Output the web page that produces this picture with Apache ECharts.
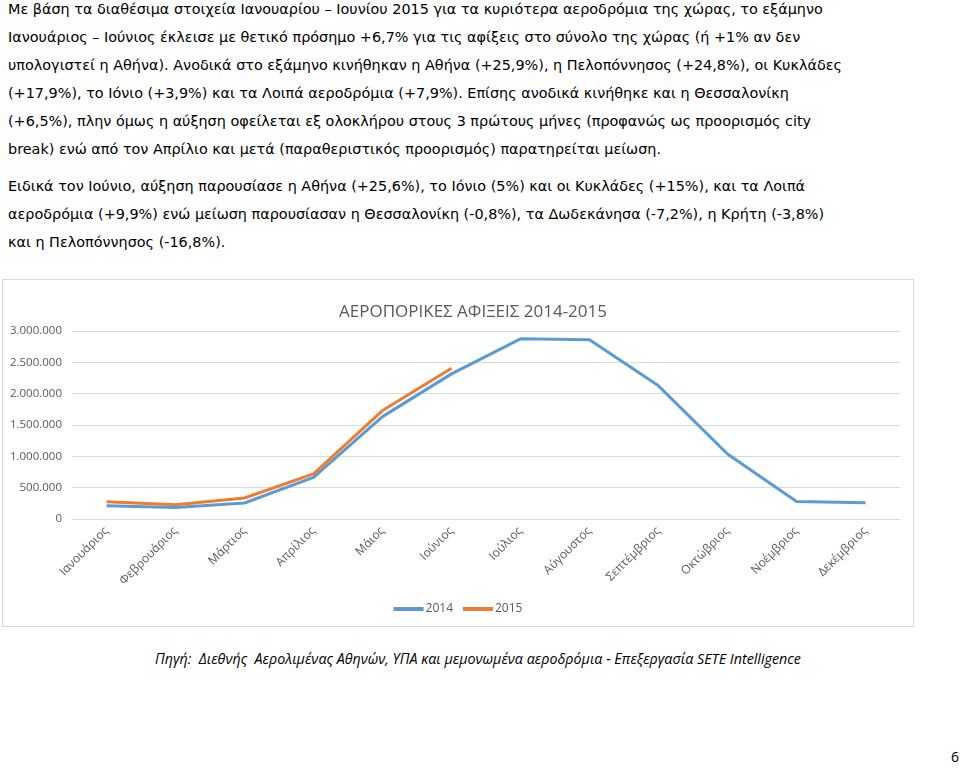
<!DOCTYPE html>
<html>
<head>
<meta charset="utf-8">
<script src="https://cdn.jsdelivr.net/npm/echarts@6/dist/echarts.min.js"></script>
<style>
  html, body { margin:0; padding:0; background:#fff; width:960px; height:768px; overflow:hidden; }
  .para { position:absolute; left:8px; font-family:"DejaVu Sans", Verdana, sans-serif; font-size:14.4px; line-height:28px; color:#000; white-space:nowrap; }
  #chartBox { position:absolute; left:2px; top:279px; width:910px; height:346px; border:1px solid #d9d9d9; }
  #chart { width:910px; height:346px; }
  #source { position:absolute; left:0; width:960px; top:649px; text-align:center; font-family:"Open Sans", "Noto Sans", sans-serif; font-style:italic; font-size:14.3px; color:#000; margin-left:-2px; }
  #page { position:absolute; left:951px; top:747px; font-family:"Open Sans", "Noto Sans", sans-serif; font-size:14px; color:#000; }
</style>
</head>
<body>
<div class="para" style="top:-5px;">Με βάση τα διαθέσιμα στοιχεία Ιανουαρίου – Ιουνίου 2015 για τα κυριότερα αεροδρόμια της χώρας, το εξάμηνο<br>Ιανουάριος – Ιούνιος έκλεισε με θετικό πρόσημο +6,7% για τις αφίξεις στο σύνολο της χώρας (ή +1% αν δεν<br>υπολογιστεί η Αθήνα). Ανοδικά στο εξάμηνο κινήθηκαν η Αθήνα (+25,9%), η Πελοπόννησος (+24,8%), οι Κυκλάδες<br>(+17,9%), το Ιόνιο (+3,9%) και τα Λοιπά αεροδρόμια (+7,9%). Επίσης ανοδικά κινήθηκε και η Θεσσαλονίκη<br>(+6,5%), πλην όμως η αύξηση οφείλεται εξ ολοκλήρου στους 3 πρώτους μήνες (προφανώς ως προορισμός city<br>break) ενώ από τον Απρίλιο και μετά (παραθεριστικός προορισμός) παρατηρείται μείωση.</div>
<div class="para" style="top:172px;">Ειδικά τον Ιούνιο, αύξηση παρουσίασε η Αθήνα (+25,6%), το Ιόνιο (5%) και οι Κυκλάδες (+15%), και τα Λοιπά<br>αεροδρόμια (+9,9%) ενώ μείωση παρουσίασαν η Θεσσαλονίκη (-0,8%), τα Δωδεκάνησα (-7,2%), η Κρήτη (-3,8%)<br>και η Πελοπόννησος (-16,8%).</div>
<div id="chartBox"><div id="chart"></div></div>
<div id="source">Πηγή:&nbsp; Διεθνής&nbsp; Αερολιμένας Αθηνών, ΥΠΑ και μεμονωμένα αεροδρόμια - Επεξεργασία SETE Intelligence</div>
<div id="page">6</div>
<script>
var months = ['Ιανουάριος','Φεβρουάριος','Μάρτιος','Απρίλιος','Μάιος','Ιούνιος','Ιούλιος','Αύγουστος','Σεπτέμβριος','Οκτώβριος','Νοέμβριος','Δεκέμβριος'];
var arrivals2014 = [212000, 185000, 255000, 665000, 1634000, 2316000, 2875000, 2860000, 2125000, 1038000, 281000, 260000];
var arrivals2015 = [276000, 228000, 335000, 719000, 1730000, 2405000];
var seriesNames = ['2014', '2015'];
var chartTitle = 'ΑΕΡΟΠΟΡΙΚΕΣ ΑΦΙΞΕΙΣ 2014-2015';

var fontFam = '"Open Sans", "Noto Sans", sans-serif';
function fmt(v) { return String(v).replace(/\B(?=(\d{3})+(?!\d))/g, '.'); }

var chart = echarts.init(document.getElementById('chart'), null, {renderer:'canvas'});
chart.setOption({
  animation: false,
  title: { text: chartTitle, left: 331, top: 19, textStyle: { fontFamily: fontFam, fontSize: 17, fontWeight: 'normal', color: '#595959' } },
  legend: { data: seriesNames, bottom: 6, left: 'center', itemWidth: 30, itemHeight: 4, icon: 'rect', itemGap: 10,
    textStyle: { fontFamily: fontFam, fontSize: 12, color: '#595959', padding: [0, 0, 0, -3] } },
  grid: { left: 69, right: 13, top: 51, bottom: 107 },
  xAxis: { type: 'category', data: months, boundaryGap: true,
    axisLine: { lineStyle: { color: '#d9d9d9', width: 1 } }, axisTick: { show: false },
    axisLabel: { rotate: 45, margin: 10, fontFamily: fontFam, fontSize: 12, color: '#595959', interval: 0 } },
  yAxis: { type: 'value', min: 0, max: 3000000, interval: 500000,
    axisLine: { show: false }, axisTick: { show: false },
    splitLine: { lineStyle: { color: '#d9d9d9', width: 1 } },
    axisLabel: { formatter: fmt, margin: 10, fontFamily: fontFam, fontSize: 11.5, color: '#595959' } },
  series: [
    { name: seriesNames[0], type: 'line', data: arrivals2014, symbol: 'none', lineStyle: { color: '#5B9BD5', width: 3 }, itemStyle: { color: '#5B9BD5' } },
    { name: seriesNames[1], type: 'line', data: arrivals2015, symbol: 'none', lineStyle: { color: '#ED7D31', width: 3 }, itemStyle: { color: '#ED7D31' } }
  ]
});
</script>
</body>
</html>
